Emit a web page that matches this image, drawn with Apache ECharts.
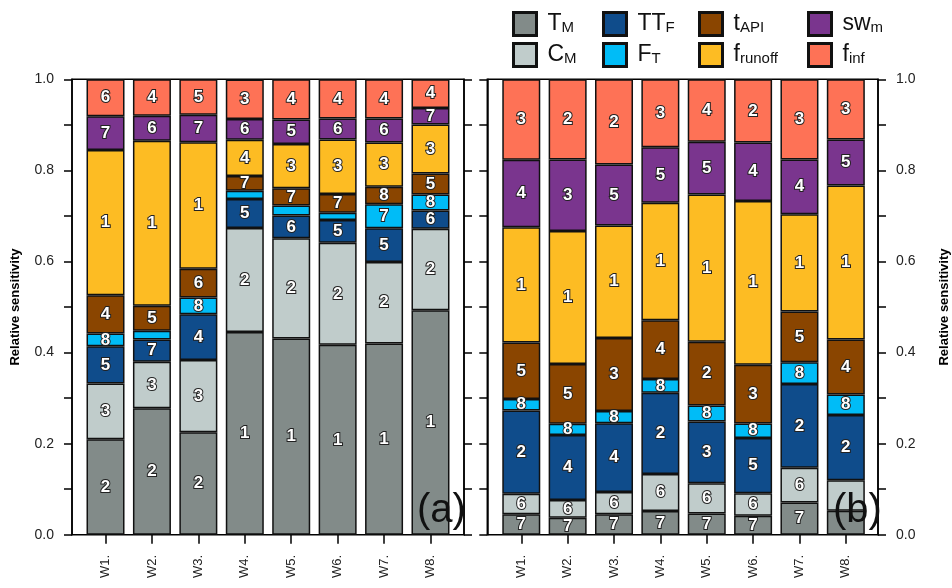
<!DOCTYPE html>
<html><head><meta charset="utf-8">
<script src="https://cdn.jsdelivr.net/npm/echarts@6/dist/echarts.min.js"></script>
<style>html,body{margin:0;padding:0;background:#fff}#c{width:952px;height:588px}</style>
</head><body><div id="c"></div>
<script>
const categories = ['W1.','W2.','W3.','W4.','W5.','W6.','W7.','W8.'];
const seriesNames = ['T_M','C_M','TT_F','F_T','t_API','f_runoff','sw_m','f_inf'];
const legendLabels = ['{m|T}{s|M}','{m|C}{s|M}','{m|TT}{s|F}','{m|F}{s|T}','{m|t}{s|API}','{m|f}{s|runoff}','{m|sw}{s|m}','{m|f}{s|inf}'];
const colors = ['#828b89','#c0cccb','#0f4c8b','#00bcf7','#8a4500','#fdbc23','#7a358e','#fe7256'];

// Panel (a) values (bottom to top)
const aTM      = [0.210,0.278,0.225,0.445,0.431,0.417,0.420,0.493];
const aCM      = [0.122,0.102,0.159,0.2285,0.220,0.224,0.179,0.179];
const aTTF     = [0.082,0.049,0.100,0.0635,0.050,0.050,0.074,0.040];
const aFT      = [0.028,0.019,0.037,0.0185,0.022,0.016,0.0526,0.035];
const aTAPI    = [0.084,0.055,0.063,0.032,0.038,0.041,0.0384,0.046];
const aFrunoff = [0.319,0.362,0.278,0.080,0.097,0.120,0.097,0.108];
const aSWm     = [0.074,0.055,0.060,0.0455,0.054,0.046,0.053,0.036];
const aFinf    = [0.081,0.080,0.078,0.0865,0.088,0.086,0.086,0.063];

// Panel (a) rank labels
const aRTM      = [2,2,2,1,1,1,1,1];
const aRCM      = [3,3,3,2,2,2,2,2];
const aRTTF     = [5,7,4,5,6,5,5,6];
const aRFT      = [8,null,8,null,null,null,7,8];
const aRTAPI    = [4,5,6,7,7,7,8,5];
const aRFrunoff = [1,1,1,4,3,3,3,3];
const aRSWm     = [7,6,7,6,5,6,6,7];
const aRFinf    = [6,4,5,3,4,4,4,4];

// Panel (b) values
const bTM      = [0.045,0.0375,0.045,0.052,0.047,0.042,0.071,0.053];
const bCM      = [0.045,0.039,0.049,0.0815,0.066,0.049,0.076,0.067];
const bTTF     = [0.183,0.1425,0.151,0.1785,0.136,0.1215,0.184,0.143];
const bFT      = [0.025,0.025,0.027,0.030,0.035,0.032,0.048,0.045];
const bTAPI    = [0.124,0.131,0.160,0.129,0.140,0.129,0.111,0.121];
const bFrunoff = [0.253,0.292,0.247,0.258,0.323,0.3595,0.214,0.338];
const bSWm     = [0.1485,0.157,0.134,0.122,0.116,0.128,0.120,0.101];
const bFinf    = [0.1765,0.176,0.187,0.149,0.137,0.139,0.176,0.132];

// Panel (b) rank labels
const bRTM      = [7,7,7,7,7,7,7,null];
const bRCM      = [6,6,6,6,6,6,6,null];
const bRTTF     = [2,4,4,2,3,5,2,2];
const bRFT      = [8,8,8,8,8,8,8,8];
const bRTAPI    = [5,5,3,4,2,3,5,4];
const bRFrunoff = [1,1,1,1,1,1,1,1];
const bRSWm     = [4,3,5,5,5,4,4,5];
const bRFinf    = [3,2,2,3,4,2,3,3];

const aVals = [aTM,aCM,aTTF,aFT,aTAPI,aFrunoff,aSWm,aFinf];
const aRanks = [aRTM,aRCM,aRTTF,aRFT,aRTAPI,aRFrunoff,aRSWm,aRFinf];
const bVals = [bTM,bCM,bTTF,bFT,bTAPI,bFrunoff,bSWm,bFinf];
const bRanks = [bRTM,bRCM,bRTTF,bRFT,bRTAPI,bRFrunoff,bRSWm,bRFinf];

const FONT = 'Liberation Sans, Arial, sans-serif';
const TOP = 79.3, H = 455.5;

function tickFmt(v){ const k = Math.round(v*10); return k%2===0 ? (k/10).toFixed(1) : ''; }

function frameY(grid, pos, labels, name){
  return {
    type:'value', gridIndex:grid, position:pos, min:0, max:1, interval:0.1,
    axisLine:{show:true, lineStyle:{color:'#000', width:1.5}},
    axisTick:{show:true, inside:false, length:8, lineStyle:{color:'#000', width:1.5}},
    axisLabel:{show:labels, formatter:tickFmt, margin:18, color:'#222', fontSize:14, fontFamily:FONT},
    splitLine:{show:false},
    name: name || '', nameLocation:'middle', nameGap: pos==='left'?50:60,
    nameTextStyle:{fontWeight:'bold', fontSize:13, color:'#000', fontFamily:FONT}
  };
}
function dataX(grid){
  return {
    type:'category', gridIndex:grid, data:categories, boundaryGap:true,
    axisLine:{show:false},
    axisTick:{show:true, alignWithLabel:true, length:9, lineStyle:{color:'#000', width:1.5}},
    axisLabel:{rotate:90, margin:20, color:'#222', fontSize:13, fontFamily:FONT}
  };
}

const series = [];
function addPanel(vals, ranks, xi, yi, stack){
  vals.forEach((arr, i) => {
    const rk = ranks[i];
    series.push({
      name: seriesNames[i], type:'bar', stack: stack, xAxisIndex:xi, yAxisIndex:yi,
      barWidth: 38, data: arr,
      itemStyle:{color: colors[i], borderColor:'#111', borderWidth:1.5},
      label:{show:true, position:'inside', formatter: p => rk[p.dataIndex]==null ? '' : String(rk[p.dataIndex]),
        color:'#fff', fontSize:17, fontWeight:'bold', fontFamily:FONT, textBorderColor:'#222', textBorderWidth:2},
      emphasis:{disabled:true}
    });
  });
}
addPanel(aVals, aRanks, 1, 2, 'a');
addPanel(bVals, bRanks, 3, 5, 'b');

const legendCols = [507, 597, 693, 802];
const legends = legendCols.map((x, c) => ({
  orient:'vertical', left:x, top:6, itemWidth:23, itemHeight:23, itemGap:5, icon:'rect',
  data:[seriesNames[c*2], seriesNames[c*2+1]],
  itemStyle:{borderColor:'#111', borderWidth:3},
  formatter: n => legendLabels[seriesNames.indexOf(n)],
  textStyle:{padding:[0,0,0,6], rich:{
    m:{fontSize:23, color:'#111', fontFamily:FONT, lineHeight:22},
    s:{fontSize:15, color:'#111', fontFamily:FONT, verticalAlign:'bottom', lineHeight:12}
  }},
  selectedMode:false
}));

const option = {
  animation:false,
  backgroundColor:'#fff',
  legend: legends,
  grid:[
    {left:72, width:392, top:TOP, height:H, show:true, borderColor:'#000', borderWidth:1.5, backgroundColor:'transparent'},
    {left:82.3, width:371.4, top:TOP, height:H},
    {left:487.3, width:391.7, top:TOP, height:H, show:true, borderColor:'#000', borderWidth:1.5, backgroundColor:'transparent'},
    {left:498.1, width:370.9, top:TOP, height:H}
  ],
  xAxis:[
    {type:'value', gridIndex:0, show:false, min:0, max:1},
    dataX(1),
    {type:'value', gridIndex:2, show:false, min:0, max:1},
    dataX(3)
  ],
  yAxis:[
    frameY(0,'left',true,'Relative sensitivity'),
    frameY(0,'right',false),
    {type:'value', gridIndex:1, min:0, max:1, show:false},
    frameY(2,'left',false),
    frameY(2,'right',true,'Relative sensitivity'),
    {type:'value', gridIndex:3, min:0, max:1, show:false}
  ],
  series: series,
  graphic:[
    {type:'text', left:417, top:491, z:100, style:{text:'(a)', fontSize:40, fill:'#111', fontFamily:FONT}},
    {type:'text', left:833, top:491, z:100, style:{text:'(b)', fontSize:40, fill:'#111', fontFamily:FONT}}
  ]
};
const chart = echarts.init(document.getElementById('c'), null, {renderer:'canvas'});
chart.setOption(option);
</script>
</body></html>
